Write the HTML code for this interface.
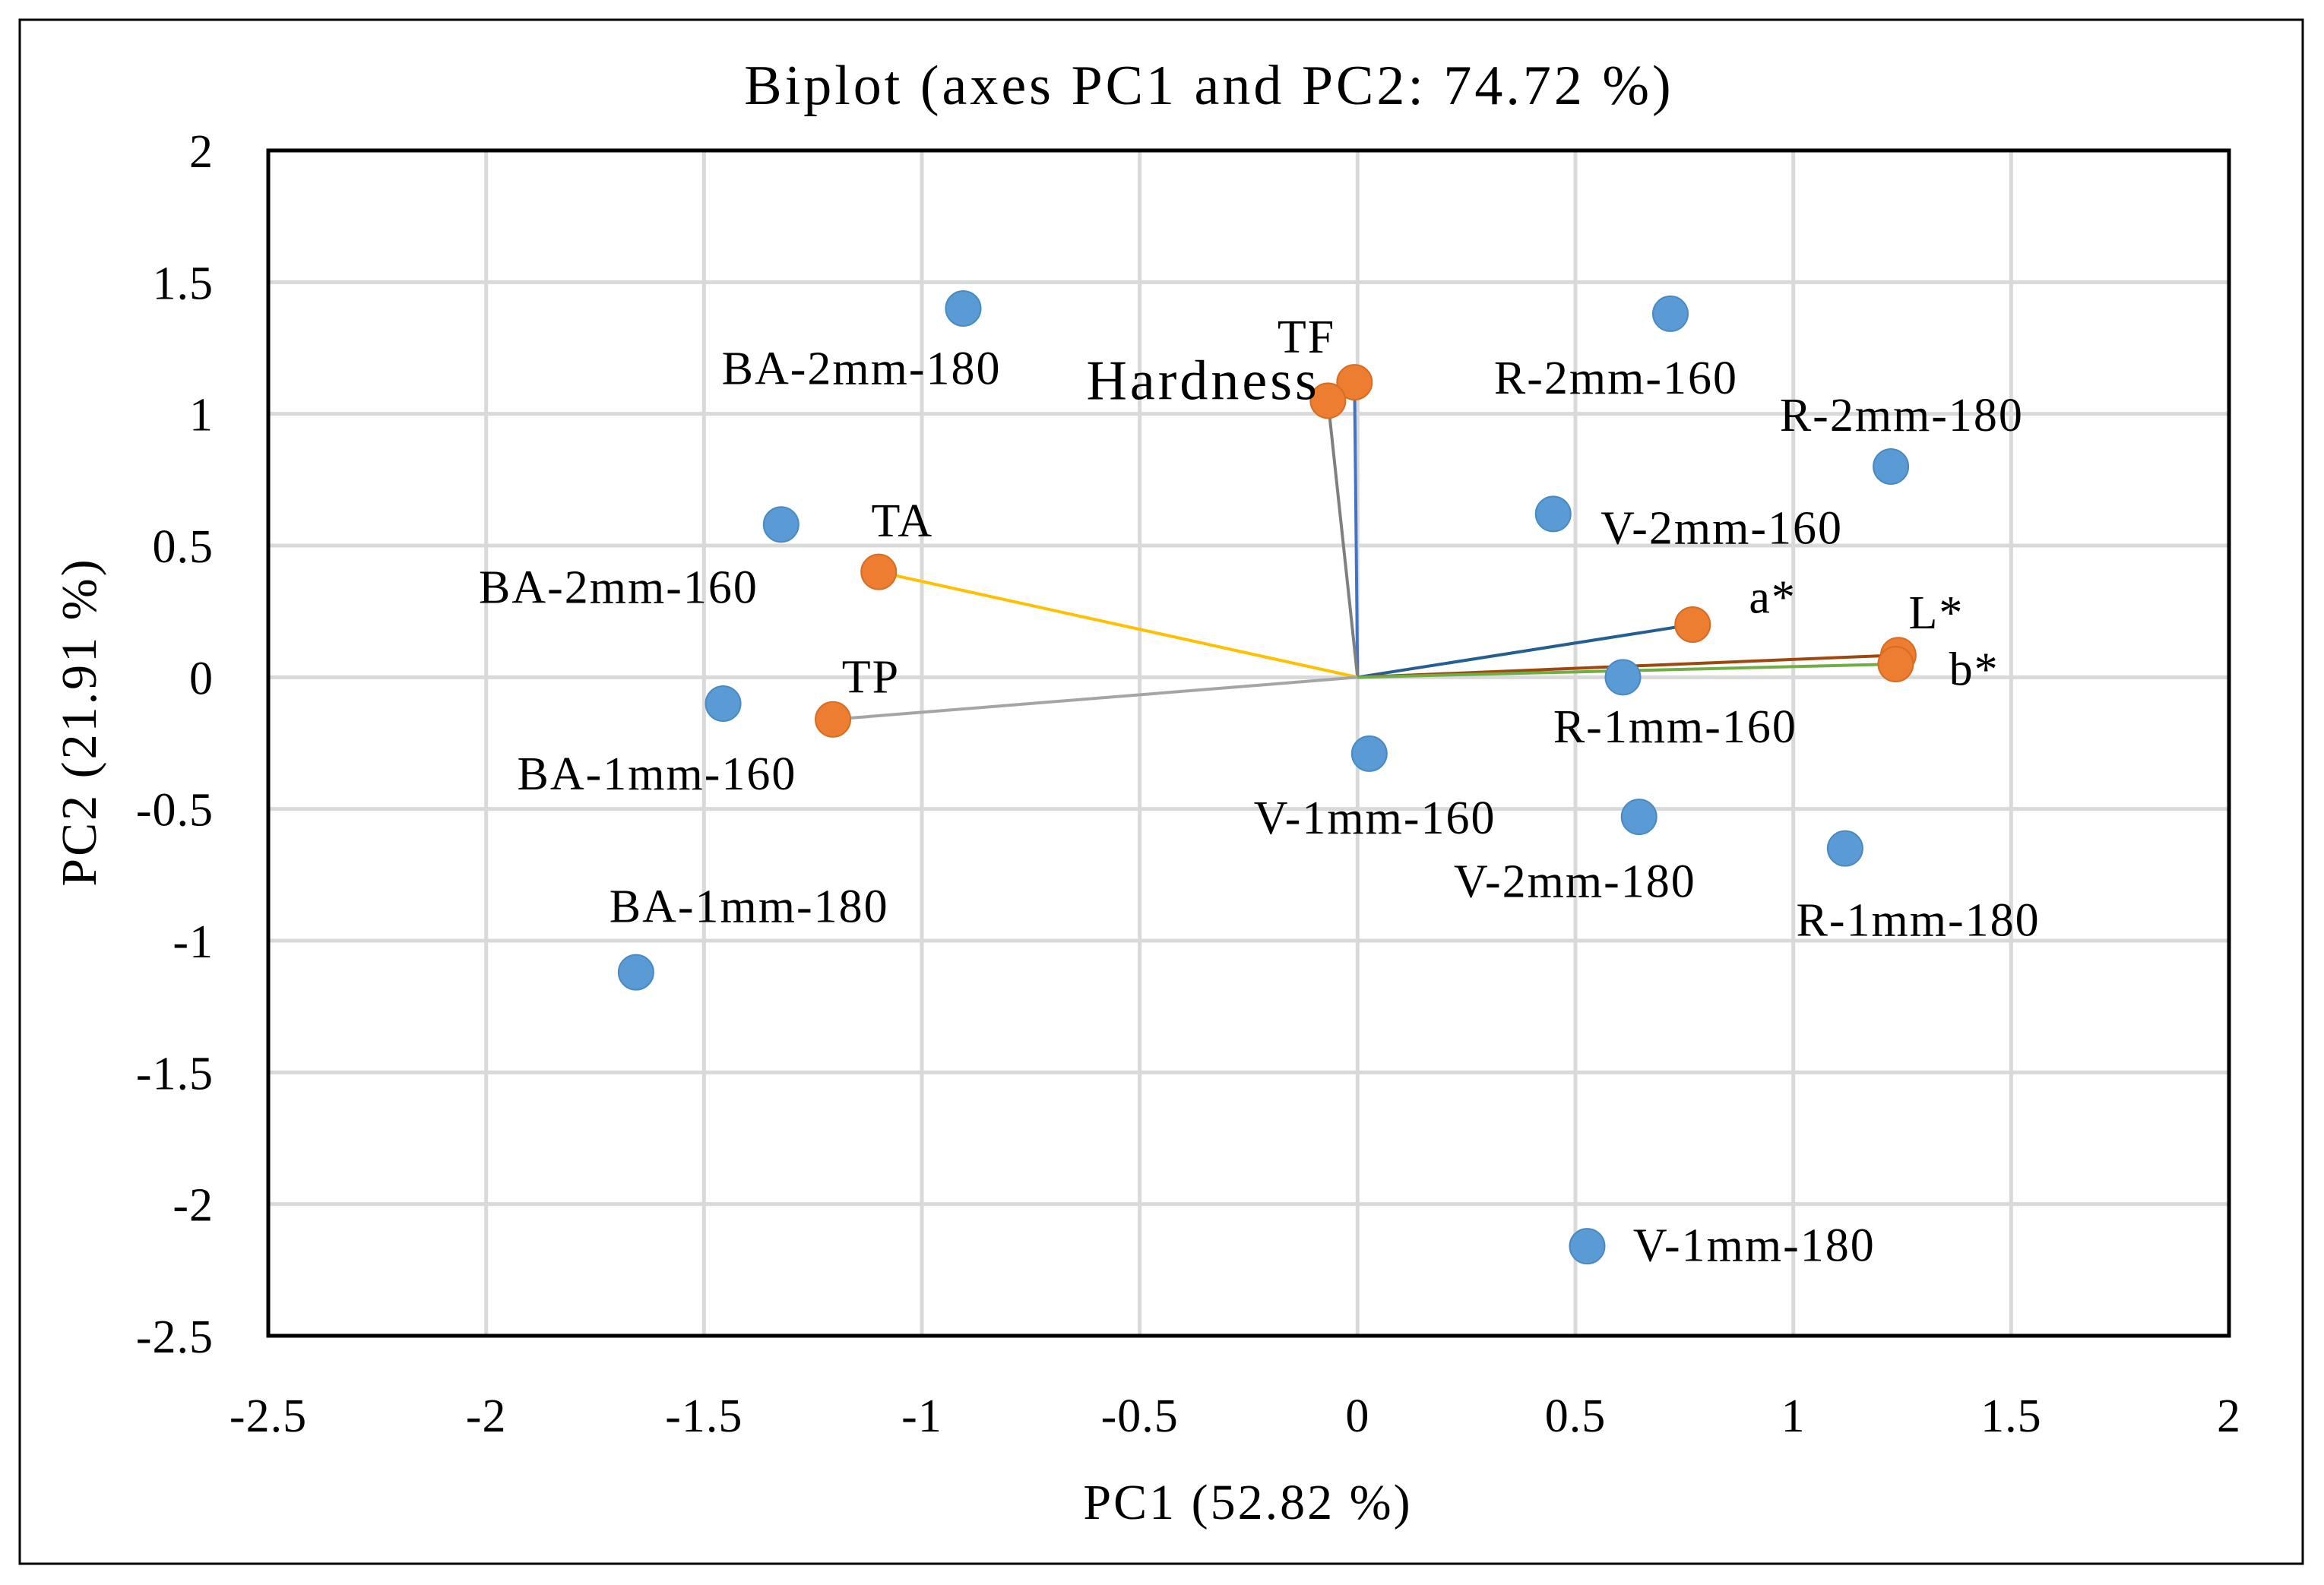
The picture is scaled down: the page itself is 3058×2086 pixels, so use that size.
<!DOCTYPE html>
<html><head><meta charset="utf-8"><style>
html,body{margin:0;padding:0;background:#fff}
svg{display:block;font-family:"Liberation Serif",serif}
</style></head><body>
<svg id="chart" width="3058" height="2086" viewBox="0 0 3058 2086">
<rect x="26" y="26" width="3004" height="2032" fill="#fff" stroke="#000" stroke-width="3"/>
<text x="1591" y="137" font-size="74" letter-spacing="4" text-anchor="middle">Biplot (axes PC1 and PC2: 74.72 %)</text>
<g id="grid"></g>
<g id="vectors"></g>
<g id="points"></g>
<g id="labels"></g>
<rect x="353" y="198" width="2580" height="1560" fill="none" stroke="#000" stroke-width="5"/>
<g id="ticks"></g>
<text x="1642" y="1999" font-size="66" letter-spacing="3" text-anchor="middle">PC1 (52.82 %)</text>
<text x="0" y="0" font-size="66" letter-spacing="3" text-anchor="middle" transform="translate(126,950) rotate(-90)">PC2 (21.91 %)</text>
</svg>
<script>
const xTicks = [-2.5,-2,-1.5,-1,-0.5,0,0.5,1,1.5,2];
const yTicks = [2,1.5,1,0.5,0,-0.5,-1,-1.5,-2,-2.5];
const obsNames = ["BA-2mm-180","R-2mm-160","R-2mm-180","V-2mm-160","BA-2mm-160","BA-1mm-160","R-1mm-160","V-1mm-160","V-2mm-180","R-1mm-180","BA-1mm-180","V-1mm-180"];
const obsX = [-0.905,0.718,1.224,0.449,-1.323,-1.456,0.609,0.027,0.646,1.119,-1.656,0.527];
const obsY = [1.40,1.38,0.80,0.62,0.58,-0.10,0.0,-0.29,-0.53,-0.65,-1.12,-2.16];
const varNames = ["TF","Hardness","TA","TP","a*","L*","b*"];
const varX = [-0.007,-0.068,-1.099,-1.204,0.769,1.241,1.235];
const varY = [1.12,1.05,0.40,-0.16,0.20,0.084,0.05];
const varColors = ["#4472c4","#7f7f7f","#ffc000","#a5a5a5","#255e91","#9e480e","#70ad47"];
const obsLabelOff = [[-163,51],[-119,54],[-75,-24],[32,20],[-204,53],[-139,58],[-47,44],[-78,54],[-125,54],[-33,59],[-18,-34],[31,10]];
const varLabelOff = [[-52,-20],[-163,-1],[-5,-24],[6,-18],[38,-8],[7,-18],[36,14]];

const L=353,R=2933,T=198,B=1758;
const sx=v=>L+(v+2.5)*(R-L)/4.5;
const sy=v=>T+(2-v)*(B-T)/4.5;
const NS="http://www.w3.org/2000/svg";
function mk(tag,attrs,parent,text){const e=document.createElementNS(NS,tag);for(const k in attrs)e.setAttribute(k,attrs[k]);if(text!==undefined)e.textContent=text;document.getElementById(parent).appendChild(e);return e;}
const sc=1.95;
xTicks.forEach(v=>{
  const g=mk('line',{x1:sx(v),x2:sx(v),y1:T,y2:B,stroke:'#d9d9d9','stroke-width':5},'grid');
  
  
  const t=mk('text',{x:sx(v),y:1884,'font-size':62,'letter-spacing':1,'text-anchor':'middle'},'ticks',String(v));
  
  
});
yTicks.forEach(v=>{
  const g=mk('line',{x1:L,x2:R,y1:sy(v),y2:sy(v),stroke:'#d9d9d9','stroke-width':5},'grid');
  
  
  const t=mk('text',{x:281,y:sy(v)+22,'font-size':62,'letter-spacing':1,'text-anchor':'end'},'ticks',String(v));
  
  
});
varNames.forEach((n,i)=>{
  const l=mk('line',{x1:sx(0),y1:sy(0),x2:sx(varX[i]),y2:sy(varY[i]),stroke:varColors[i],'stroke-width':4},'vectors');
  
  
});
obsNames.forEach((n,i)=>{
  const c=mk('circle',{cx:sx(obsX[i]),cy:sy(obsY[i]),r:23,fill:'#5b9bd5',stroke:'#4a8ac4','stroke-width':2},'points');
  
  
  const t=mk('text',{x:sx(obsX[i])+obsLabelOff[i][0]*sc,y:sy(obsY[i])+obsLabelOff[i][1]*sc,'font-size':62,'letter-spacing':2},'labels',n);
  
  
});
varNames.forEach((n,i)=>{
  const c=mk('circle',{cx:sx(varX[i]),cy:sy(varY[i]),r:23,fill:'#ed7d31',stroke:'#d86c22','stroke-width':2},'points');
  
  
  const big=n==='Hardness';
  const t=mk('text',{x:sx(varX[i])+varLabelOff[i][0]*sc,y:sy(varY[i])+varLabelOff[i][1]*sc,'font-size':big?74:62,'letter-spacing':big?4:2},'labels',n);
  
  
});
</script>
</body></html>
